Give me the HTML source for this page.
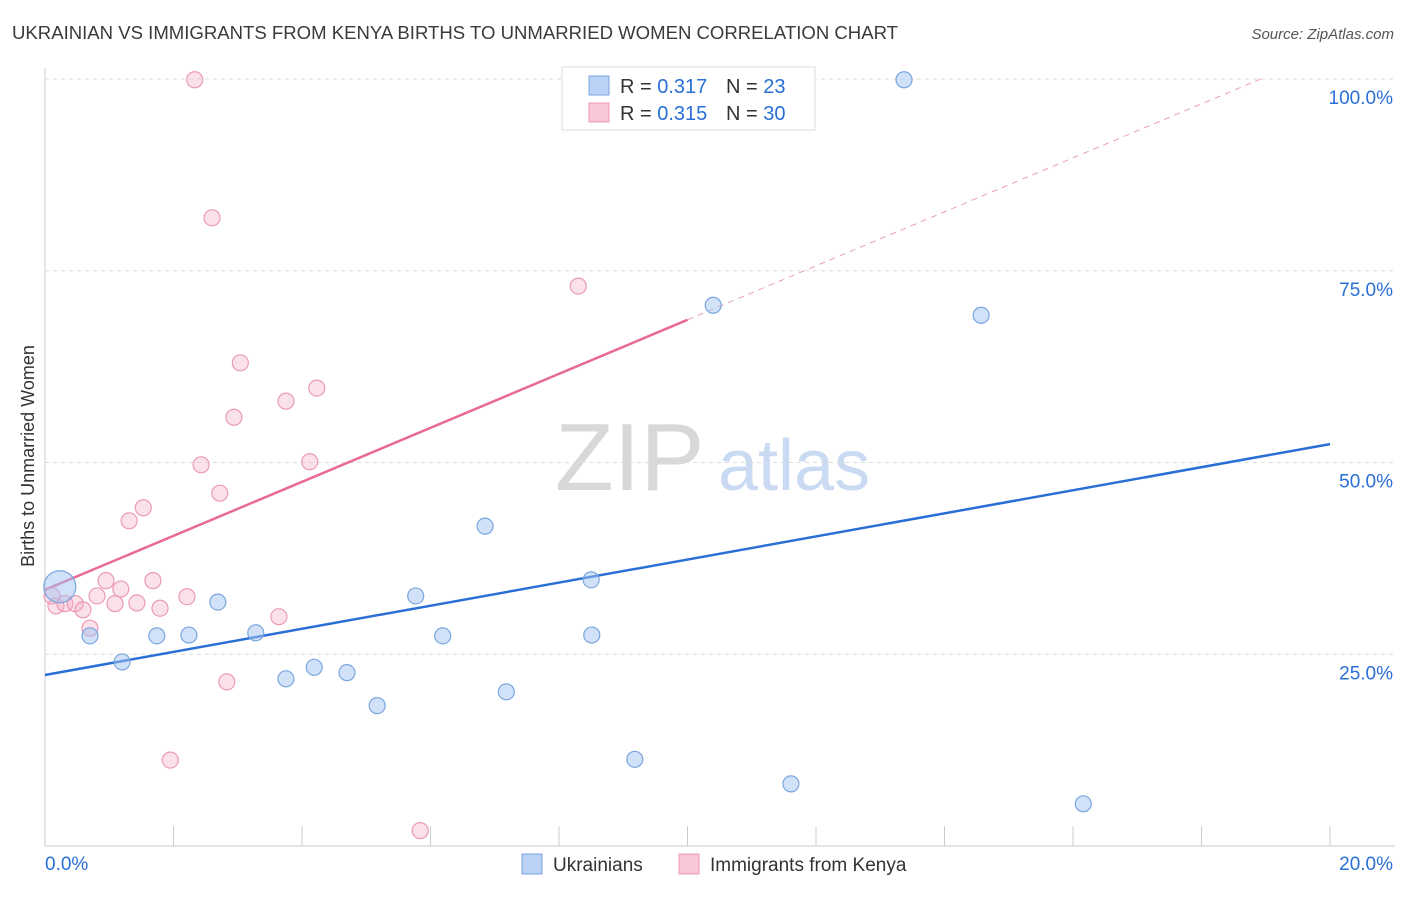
<!DOCTYPE html>
<html><head><meta charset="utf-8"><style>
body{margin:0;background:#fff;font-family:"Liberation Sans",sans-serif;}
svg text{font-family:"Liberation Sans",sans-serif;}
</style></head><body>
<svg id="chart" width="1406" height="892" xmlns="http://www.w3.org/2000/svg">
<text x="12" y="39" font-size="18" fill="#3a3a3a" textLength="886" lengthAdjust="spacingAndGlyphs">UKRAINIAN VS IMMIGRANTS FROM KENYA BIRTHS TO UNMARRIED WOMEN CORRELATION CHART</text>
<text x="1394" y="39" font-size="15" fill="#555" text-anchor="end" font-style="italic">Source: ZipAtlas.com</text>
<g>
<text x="555" y="490" font-size="96" fill="#d8d8d8" font-family="Liberation Serif, serif">ZIP</text>
<text x="718" y="490" font-size="72" fill="#c9daf2">atlas</text>
</g>
<text transform="translate(34,456) rotate(-90)" font-size="18" fill="#333" text-anchor="middle">Births to Unmarried Women</text>
<g id="grid"></g>
<g id="axes"></g>
<g id="lines"></g>
<g id="points"></g>
<g>
<rect x="562" y="67" width="253" height="63" fill="#fff" stroke="#ddd"/>
<rect x="589" y="76" width="20" height="19" fill="#b9d2f5" stroke="#7aa6e0"/>
<text x="620" y="93" font-size="20" fill="#333">R = <tspan fill="#2a6fd6">0.317</tspan></text>
<text x="726" y="93" font-size="20" fill="#333">N = <tspan fill="#2a6fd6">23</tspan></text>
<rect x="589" y="103" width="20" height="19" fill="#f8c6d6" stroke="#eb9ab5"/>
<text x="620" y="120" font-size="20" fill="#333">R = <tspan fill="#2a6fd6">0.315</tspan></text>
<text x="726" y="120" font-size="20" fill="#333">N = <tspan fill="#2a6fd6">30</tspan></text>
</g>
<g>
<rect x="522" y="854" width="20" height="20" fill="#b9d2f5" stroke="#7aa6e0"/>
<text x="553" y="871" font-size="19" fill="#333">Ukrainians</text>
<rect x="679" y="854" width="20" height="20" fill="#f8c6d6" stroke="#eb9ab5"/>
<text x="710" y="871" font-size="19" fill="#333">Immigrants from Kenya</text>
</g>
</svg>
<script>
const yTicks=[25,50,75,100];
const yTickLabels=["25.0%","50.0%","75.0%","100.0%"];
const xTicks=[2,4,6,8,10,12,14,16,18,20];
const blueX=[0.23,0.70,1.20,1.74,2.24,2.69,3.28,3.75,4.19,4.70,5.17,5.77,6.19,6.85,7.18,8.50,8.51,9.18,10.40,11.61,13.37,14.57,16.16];
const blueY=[33.8,27.4,24.0,27.4,27.5,31.8,27.8,21.8,23.3,22.6,18.3,32.6,27.4,41.7,20.1,34.7,27.5,11.3,70.5,8.1,99.9,69.2,5.5];
const pinkX=[2.33,2.60,3.04,2.94,3.75,4.23,2.43,4.12,2.72,1.53,1.31,8.30,1.68,0.95,1.18,0.81,2.21,0.11,0.17,0.31,0.47,0.59,1.09,1.43,1.79,3.64,0.70,2.83,1.95,5.84];
const pinkY=[99.9,81.9,63.0,55.9,58.0,59.7,49.7,50.1,46.0,44.1,42.4,73.0,34.6,34.6,33.5,32.6,32.5,32.6,31.3,31.6,31.6,30.8,31.6,31.7,31.0,29.9,28.4,21.4,11.2,2.0];
const blueLine=[22.3,52.4];
const pinkLine=[33.4,3.52];
const NS="http://www.w3.org/2000/svg";
const sx=v=>45+v/20*1285, sy=v=>846-v/100*767;
function mk(tag,attrs,parent){const e=document.createElementNS(NS,tag);for(const k in attrs)e.setAttribute(k,attrs[k]);parent.appendChild(e);return e;}
const grid=document.getElementById('grid'),axes=document.getElementById('axes'),lines=document.getElementById('lines'),pts=document.getElementById('points');
yTicks.forEach((t,i)=>{
 const l=mk('line',{x1:45,x2:1395,y1:sy(t),y2:sy(t),stroke:'#ddd','stroke-dasharray':'4,4'},grid);
 
 
 const tx=mk('text',{x:1393,y:sy(t)+25,'font-size':19,fill:'#2a6fd6','text-anchor':'end'},grid);
 tx.textContent=yTickLabels[i];
 
 
});
const ya=mk('line',{x1:45,x2:45,y1:68,y2:846,stroke:'#ccc'},axes);


const xa=mk('line',{x1:45,x2:1395,y1:846,y2:846,stroke:'#ccc'},axes);


xTicks.forEach(t=>{
 const l=mk('line',{x1:sx(t),x2:sx(t),y1:826,y2:846,stroke:'#ccc'},axes);
 
 
});
const x0=mk('text',{x:45,y:870,'font-size':19,fill:'#2a6fd6'},axes);x0.textContent='0.0%';


const x1=mk('text',{x:1393,y:870,'font-size':19,fill:'#2a6fd6','text-anchor':'end'},axes);x1.textContent='20.0%';


const bl=mk('line',{x1:sx(0),y1:sy(blueLine[0]),x2:sx(20),y2:sy(blueLine[1]),stroke:'#2a6fd6','stroke-width':2.5},lines);


const pl=mk('line',{x1:sx(0),y1:sy(pinkLine[0]),x2:sx(10),y2:sy(pinkLine[0]+pinkLine[1]*10),stroke:'#e86a98','stroke-width':2.5},lines);


const xe=(100-pinkLine[0])/pinkLine[1];
const pd=mk('line',{x1:sx(10),y1:sy(pinkLine[0]+pinkLine[1]*10),x2:sx(xe),y2:sy(100),stroke:'#e8a0b8','stroke-width':1,'stroke-dasharray':'6,5'},lines);


pinkX.forEach((v,i)=>{
 const c=mk('circle',{cx:sx(v),cy:sy(pinkY[i]),r:8,fill:'rgba(244,170,195,0.35)',stroke:'#eb9ab5','stroke-width':1.2},pts);
 
 
});
blueX.forEach((v,i)=>{
 const c=mk('circle',{cx:sx(v),cy:sy(blueY[i]),r:i===0?16:8,fill:'rgba(164,196,240,0.5)',stroke:'#7aa6e0','stroke-width':1.2},pts);
 
 
});
</script>
</body></html>
